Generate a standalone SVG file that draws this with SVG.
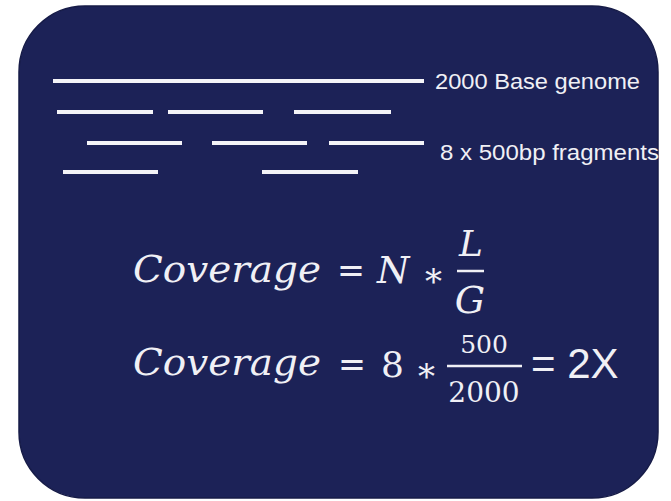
<svg xmlns="http://www.w3.org/2000/svg" width="671" height="501" viewBox="0 0 671 501">
<style>
.frag{stroke:#f4f4f8;stroke-width:4;stroke-linecap:butt}
.lbl{font-family:"Liberation Sans",Arial,sans-serif;fill:#f0f0f5}
.math{font-family:"DejaVu Serif","Liberation Serif",serif;font-style:italic;fill:#f0f0f5}
.num{font-family:"DejaVu Serif","Liberation Serif",serif;fill:#f0f0f5}
</style>
<rect width="671" height="501" fill="#ffffff"/>
<g id="panel">
<rect x="19" y="6" width="639" height="492" rx="66" ry="66" fill="#1c2257" stroke="#161b47" stroke-width="1.5"/>
</g>
<g id="genome">
<line class="frag" x1="53" y1="81" x2="424" y2="81"/>
<text class="lbl" x="435" y="89" font-size="22" textLength="205" lengthAdjust="spacingAndGlyphs">2000 Base genome</text>
</g>
<g id="fragments">
<line class="frag" x1="57" y1="112" x2="153" y2="112"/>
<line class="frag" x1="168" y1="112" x2="263" y2="112"/>
<line class="frag" x1="294" y1="112" x2="391" y2="112"/>
<line class="frag" x1="87" y1="143" x2="182" y2="143"/>
<line class="frag" x1="212" y1="143" x2="307" y2="143"/>
<line class="frag" x1="329" y1="143" x2="424" y2="143"/>
<line class="frag" x1="63" y1="172" x2="158" y2="172"/>
<line class="frag" x1="262" y1="172" x2="358" y2="172"/>
<text class="lbl" x="440" y="160" font-size="22" textLength="219" lengthAdjust="spacingAndGlyphs">8 x 500bp fragments</text>
</g>
<g id="formula1">
<text class="math" x="133" y="282" font-size="37" textLength="188" lengthAdjust="spacingAndGlyphs">Coverage</text>
<text class="num" x="337" y="283" font-size="37" textLength="28" lengthAdjust="spacingAndGlyphs">=</text>
<text class="math" x="377" y="283" font-size="37">N</text>
<text class="num" x="425" y="293" font-size="34">*</text>
<text class="math" x="471" y="256" font-size="36" text-anchor="middle">L</text>
<line x1="457" y1="271" x2="484" y2="271" stroke="#f0f0f5" stroke-width="2.5"/>
<text class="math" x="470" y="313" font-size="38" text-anchor="middle">G</text>
</g>
<g id="formula2">
<text class="math" x="133" y="375" font-size="37" textLength="188" lengthAdjust="spacingAndGlyphs">Coverage</text>
<text class="num" x="338" y="377" font-size="37" textLength="28" lengthAdjust="spacingAndGlyphs">=</text>
<text class="num" x="381" y="377" font-size="36">8</text>
<text class="num" x="418" y="388" font-size="34">*</text>
<text class="num" x="484" y="353" font-size="25" text-anchor="middle">500</text>
<line x1="447" y1="366" x2="522" y2="366" stroke="#f0f0f5" stroke-width="2.5"/>
<text class="num" x="484" y="402" font-size="28" text-anchor="middle">2000</text>
<text class="lbl" x="531" y="378" font-size="42">= 2X</text>
</g>
</svg>
